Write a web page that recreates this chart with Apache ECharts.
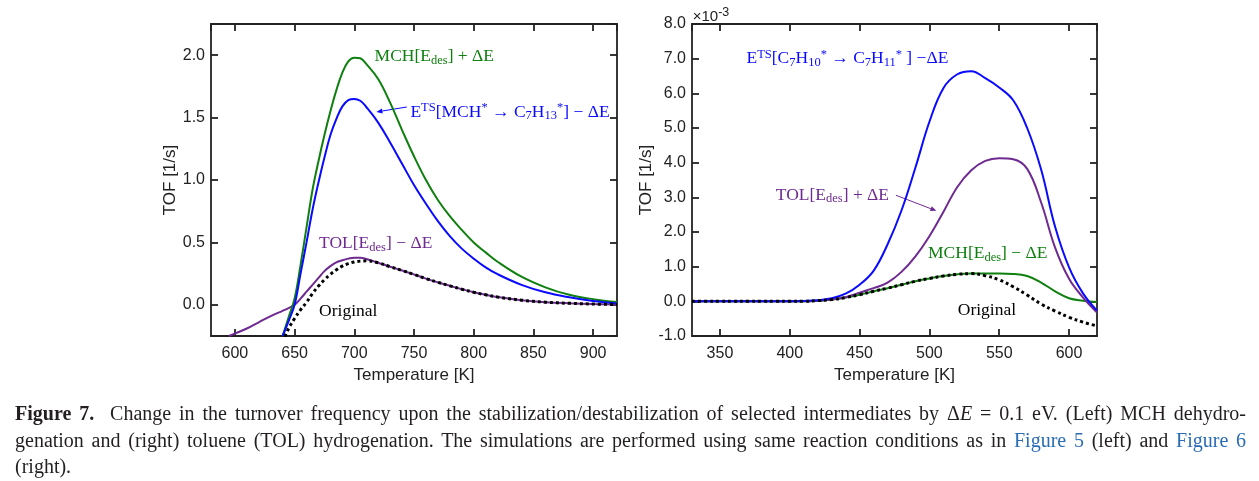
<!DOCTYPE html>
<html>
<head>
<meta charset="utf-8">
<script src="https://cdn.jsdelivr.net/npm/echarts@6.0.0/dist/echarts.min.js"></script>
<style>
html, body { margin: 0; padding: 0; background: #fff; }
#chart { width: 1259px; height: 481px; }
#caption { position: absolute; left: 15px; top: 400px; width: 1231px;
  font-family: 'Liberation Serif', serif; font-size: 20px; line-height: 26.5px; color: #231f20; }
#caption .j { text-align: justify; text-align-last: justify; white-space: nowrap; }
#caption a { color: #2a6cb5; text-decoration: none; }
</style>
</head>
<body>
<div id="chart"></div>
<div id="caption">
  <div class="j"><b>Figure 7.</b>&nbsp; Change in the turnover frequency upon the stabilization/destabilization of selected intermediates by Δ<i>E</i> = 0.1 eV. (Left) MCH dehydro-</div>
  <div class="j">genation and (right) toluene (TOL) hydrogenation. The simulations are performed using same reaction conditions as in <a>Figure 5</a> (left) and <a>Figure 6</a></div>
  <div>(right).</div>
</div>
<script>
// left panel: MCH dehydrogenation, TOF in 1/s
var leftTemps = [595, 600, 610, 620, 630, 640, 645, 650, 655, 660, 665, 670, 675, 680, 685, 690, 695, 700, 705, 710,
  720, 730, 740, 750, 760, 770, 780, 790, 800, 810, 820, 840, 860, 880, 900, 920];
var leftMchPlus = [null, null, null, null, null, -0.25, -0.10, 0.05, 0.32, 0.62, 0.92, 1.15, 1.36, 1.55, 1.72, 1.86, 1.95, 1.98, 1.975, 1.93,
  1.81, 1.62, 1.40, 1.19, 1.00, 0.84, 0.71, 0.60, 0.50, 0.42, 0.345, 0.225, 0.14, 0.08, 0.045, 0.022];
var leftTsMinus = [null, null, null, null, null, -0.25, -0.13, 0.0, 0.25, 0.50, 0.76, 0.98, 1.18, 1.36, 1.49, 1.59, 1.64, 1.65, 1.635, 1.585,
  1.46, 1.30, 1.13, 0.96, 0.81, 0.67, 0.55, 0.45, 0.37, 0.30, 0.245, 0.16, 0.10, 0.06, 0.03, 0.01];
var leftTolMinus = [-0.25, -0.23, -0.19, -0.14, -0.09, -0.048, -0.026, 0.0, 0.05, 0.105, 0.16, 0.215, 0.27, 0.31, 0.34, 0.357, 0.37, 0.378, 0.378, 0.367,
  0.337, 0.305, 0.275, 0.243, 0.21, 0.18, 0.152, 0.125, 0.10, 0.08, 0.062, 0.037, 0.021, 0.012, 0.006, 0.003];
var leftOriginal = [null, null, null, null, null, -0.30, -0.19, -0.11, -0.04, 0.02, 0.09, 0.15, 0.20, 0.245, 0.28, 0.31, 0.33, 0.343, 0.35, 0.352,
  0.337, 0.305, 0.275, 0.243, 0.21, 0.18, 0.152, 0.125, 0.10, 0.08, 0.062, 0.037, 0.021, 0.012, 0.006, 0.003];

// right panel: toluene hydrogenation, TOF in 1e-3 1/s
var rightTemps = [330, 340, 350, 360, 370, 380, 390, 400, 410, 420, 430, 440, 450, 460, 470, 480, 490, 500, 510, 520,
  530, 540, 550, 560, 570, 580, 590, 600, 610, 620];
var rightTsMinus = [0, 0, 0, 0, 0, 0, 0, 0, 0.01, 0.03, 0.09, 0.22, 0.48, 0.88, 1.64, 2.62, 3.86, 5.18, 6.15, 6.55,
  6.64, 6.44, 6.17, 5.80, 5.0, 3.8, 2.15, 0.98, 0.23, -0.27];
var rightTolPlus = [0, 0, 0, 0, 0, 0, 0, 0, 0, 0.02, 0.05, 0.12, 0.25, 0.38, 0.54, 0.85, 1.3, 1.88, 2.58, 3.3,
  3.78, 4.05, 4.13, 4.1, 3.82, 2.85, 1.55, 0.65, 0.11, -0.32];
var rightMchMinus = [0, 0, 0, 0, 0, 0, 0, 0, 0, 0.02, 0.05, 0.11, 0.19, 0.29, 0.38, 0.48, 0.58, 0.66, 0.73, 0.78,
  0.80, 0.80, 0.80, 0.79, 0.73, 0.54, 0.29, 0.09, 0.02, -0.02];
var rightOriginal = [0, 0, 0, 0, 0, 0, 0, 0, 0, 0.02, 0.05, 0.11, 0.19, 0.29, 0.38, 0.48, 0.58, 0.66, 0.73, 0.78,
  0.80, 0.74, 0.62, 0.42, 0.18, -0.08, -0.28, -0.46, -0.60, -0.71];

var GREEN = '#0f800f', BLUE = '#0a0aff', PURPLE = '#6e2a90', INK = '#222';
var SANS = 'Liberation Sans', SERIF = 'Liberation Serif';

function pairs(temps, vals) {
  var out = [];
  temps.forEach(function (t, i) {
    if (vals[i] !== null) out.push([t, vals[i]]);
  });
  return out;
}

var lineAxis = { onZero: false, lineStyle: { color: INK, width: 1.8 } };
var tickIn = { inside: true, length: 7, lineStyle: { color: INK, width: 1.8 } };

function xAxes(grid, min, max) {
  return [{
    gridIndex: grid, type: 'value', min: min, max: max, position: 'bottom',
    axisLine: lineAxis, axisTick: tickIn, splitLine: { show: false },
    axisLabel: { showMinLabel: false, showMaxLabel: false, margin: 10, fontSize: 16, color: INK, fontFamily: SANS },
    name: 'Temperature [K]', nameLocation: 'middle', nameGap: 31,
    nameTextStyle: { fontSize: 17, color: INK, fontFamily: SANS }
  }, {
    gridIndex: grid, type: 'value', min: min, max: max, position: 'top',
    axisLine: lineAxis, axisTick: tickIn, splitLine: { show: false }, axisLabel: { show: false }
  }];
}

function yAxes(grid, min, max, interval, gap) {
  var main = {
    gridIndex: grid, type: 'value', min: min, max: max, position: 'left',
    axisLine: lineAxis, axisTick: tickIn, splitLine: { show: false },
    axisLabel: { margin: 6, fontSize: 16, color: INK, fontFamily: SANS,
      formatter: function (v) { return v.toFixed(1); } },
    name: 'TOF [1/s]', nameLocation: 'middle', nameGap: gap,
    nameTextStyle: { fontSize: 17, color: INK, fontFamily: SANS }
  };
  var mirror = {
    gridIndex: grid, type: 'value', min: min, max: max, position: 'right',
    axisLine: lineAxis, axisTick: tickIn, splitLine: { show: false }, axisLabel: { show: false }
  };
  if (interval) {
    main.interval = interval;
    mirror.interval = interval;
  } else {
    main.axisLabel.showMinLabel = false;
    main.axisLabel.showMaxLabel = false;
  }
  return [main, mirror];
}

function curve(name, data, axis, color, dotted) {
  return {
    name: name, type: 'line', xAxisIndex: axis, yAxisIndex: axis,
    data: data, smooth: 0.4, showSymbol: false, clip: true,
    lineStyle: dotted ? { color: '#000', width: 3, type: [3, 3] } : { color: color, width: 2 }
  };
}

var chart = echarts.init(document.getElementById('chart'));
chart.setOption({
  animation: false,
  grid: [
    { left: 211, top: 24, width: 406, height: 312 },
    { left: 692, top: 24, width: 405, height: 312 }
  ],
  xAxis: xAxes(0, 580, 920).concat(xAxes(1, 330, 620)),
  yAxis: yAxes(0, -0.25, 2.25, null, 31).concat(yAxes(1, -1, 8, 1, 37)),
  series: [
    curve('TOL[Edes] - dE', pairs(leftTemps, leftTolMinus), 0, PURPLE),
    curve('MCH[Edes] + dE', pairs(leftTemps, leftMchPlus), 0, GREEN),
    curve('ETS - dE', pairs(leftTemps, leftTsMinus), 0, BLUE),
    curve('Original', pairs(leftTemps, leftOriginal), 0, '#000', true),
    curve('MCH[Edes] - dE', pairs(rightTemps, rightMchMinus), 2, GREEN),
    curve('TOL[Edes] + dE', pairs(rightTemps, rightTolPlus), 2, PURPLE),
    curve('ETS - dE', pairs(rightTemps, rightTsMinus), 2, BLUE),
    curve('Original', pairs(rightTemps, rightOriginal), 2, '#000', true)
  ]
});

function px(axis, pt) {
  return chart.convertToPixel({ xAxisIndex: axis, yAxisIndex: axis }, pt);
}

function note(axis, pt, text, color, family, size) {
  var p = px(axis, pt);
  var small = { fontSize: 12.5, lineHeight: 11, fill: color, fontFamily: family };
  return {
    type: 'text', x: p[0], y: p[1], silent: true,
    style: {
      text: text, fill: color, fontFamily: family, fontSize: size || 17.5, lineHeight: 21,
      align: 'left', verticalAlign: 'middle',
      rich: {
        b: Object.assign({ verticalAlign: 'bottom' }, small),
        t: Object.assign({ verticalAlign: 'top' }, small)
      }
    }
  };
}

function arrow(axis, from, to, color) {
  var a = px(axis, from), b = px(axis, to);
  var dx = b[0] - a[0], dy = b[1] - a[1], len = Math.sqrt(dx * dx + dy * dy);
  var ux = dx / len, uy = dy / len;
  var base = [b[0] - ux * 6, b[1] - uy * 6];
  return [{
    type: 'line', silent: true,
    shape: { x1: a[0], y1: a[1], x2: base[0], y2: base[1] },
    style: { stroke: color, lineWidth: 1 }
  }, {
    type: 'polygon', silent: true,
    shape: { points: [b, [base[0] - uy * 2.5, base[1] + ux * 2.5], [base[0] + uy * 2.5, base[1] - ux * 2.5]] },
    style: { fill: color }
  }];
}

var graphics = [
  note(0, [717, 1.99], 'MCH[E{b|des}] + ΔE', GREEN, SERIF),
  note(0, [747, 1.545], 'E{t|TS}[MCH{t|*} → C{b|7}H{b|13}{t|*}] − ΔE', BLUE, SERIF),
  note(0, [670.5, 0.49], 'TOL[E{b|des}] − ΔE', PURPLE, SERIF),
  note(0, [670.5, -0.05], 'Original', '#000', SERIF),
  note(2, [369, 7.01], 'E{t|TS}[C{b|7}H{b|10}{t|*} → C{b|7}H{b|11}{t|*} ] −ΔE', BLUE, SERIF),
  note(2, [390, 3.07], 'TOL[E{b|des}] + ΔE', PURPLE, SERIF),
  note(2, [499, 1.38], 'MCH[E{b|des}] − ΔE', GREEN, SERIF),
  note(2, [520.3, -0.26], 'Original', '#000', SERIF),
  note(2, [330.5, 8.22], '×10{t|-3}', INK, SANS, 15)
].concat(arrow(0, [744, 1.585], [718.5, 1.545], BLUE))
 .concat(arrow(2, [476, 3.06], [505, 2.61], PURPLE));

chart.setOption({ graphic: graphics });
</script>
</body>
</html>
